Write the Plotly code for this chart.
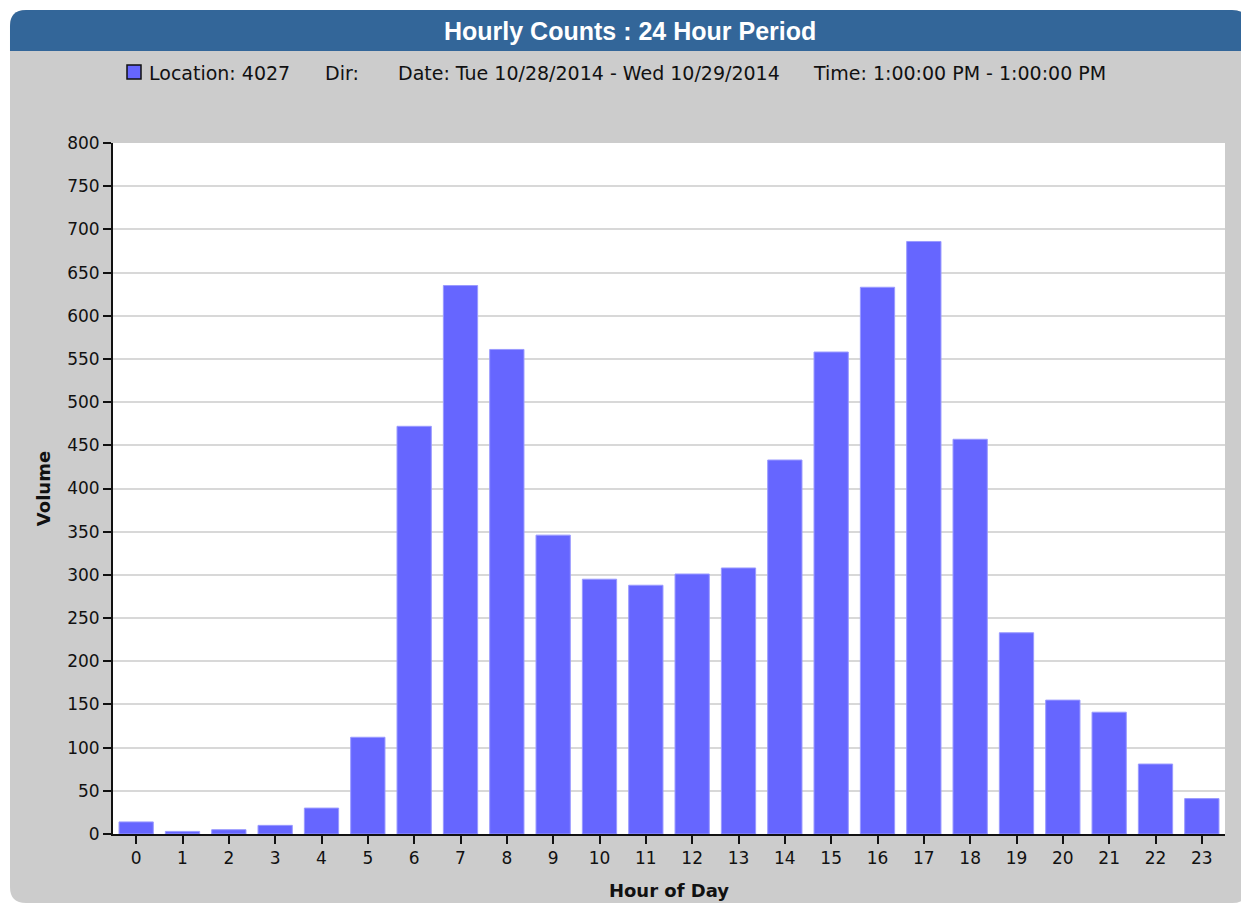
import plotly.graph_objects as go

hours = [str(h) for h in range(24)]
volume = [14, 3, 5, 10, 30, 112, 472, 635, 561, 346, 295, 288,
          301, 308, 433, 558, 633, 686, 457, 233, 155, 141, 81, 41]
y_ticks = list(range(0, 801, 50))

title_text = "Hourly Counts : 24 Hour Period"
series_name = "Location: 4027"
dir_text = "Dir:"
date_text = "Date: Tue 10/28/2014 - Wed 10/29/2014"
time_text = "Time: 1:00:00 PM - 1:00:00 PM"

# the page body has an 8px margin; work in screen pixels and shift
OFF = 8
W, H = 1249 - OFF, 905 - OFF
L, R, T, B = 113, 1225, 143, 834   # plot area in screen pixels


def px(x):
    return (x - L) / (R - L)


def py(y):
    return (B - y) / (B - T)


def pt(x, y):
    return f"{px(x):.5f},{py(y):.5f}"


fig = go.Figure()
fig.add_trace(go.Bar(
    x=hours, y=volume, name=series_name,
    marker=dict(color="#6666ff", line=dict(color="#9a9aff", width=1)),
    showlegend=False,
))

# panel
x0, y0, x1, y1, r = 10, 10, 1248, 903, 16
panel = (f"M {pt(x0 + r, y0)} L {pt(x1 - r, y0)} Q {pt(x1, y0)} {pt(x1, y0 + r)} "
         f"L {pt(x1, y1 - r)} Q {pt(x1, y1)} {pt(x1 - r, y1)} "
         f"L {pt(x0 + r, y1)} Q {pt(x0, y1)} {pt(x0, y1 - r)} "
         f"L {pt(x0, y0 + r)} Q {pt(x0, y0)} {pt(x0 + r, y0)} Z")
bar_top = 51
header = (f"M {pt(x0 + r, y0)} L {pt(x1 - r, y0)} Q {pt(x1, y0)} {pt(x1, y0 + r)} "
          f"L {pt(x1, bar_top)} L {pt(x0, bar_top)} "
          f"L {pt(x0, y0 + r)} Q {pt(x0, y0)} {pt(x0 + r, y0)} Z")
shapes = [
    dict(type="path", path=panel, xref="paper", yref="paper",
         fillcolor="#cccccc", line=dict(width=0), layer="below"),
    dict(type="path", path=header, xref="paper", yref="paper",
         fillcolor="#336699", line=dict(width=0), layer="below"),
    dict(type="rect", xref="paper", yref="paper", x0=0, x1=1, y0=0, y1=1,
         fillcolor="white", line=dict(width=0), layer="below"),
    dict(type="rect", xref="paper", yref="paper",
         x0=px(127), x1=px(141), y0=py(65), y1=py(79),
         fillcolor="#6666ff", line=dict(color="#111111", width=1.5)),
]

legend_font = dict(family="DejaVu Sans", size=19, color="#111111")
annotations = [
    dict(text=f"<b>{title_text}</b>", x=px(630), y=py(31), xref="paper", yref="paper",
         showarrow=False, xanchor="center", yanchor="middle",
         font=dict(family="Liberation Sans", size=25, color="white")),
    dict(text=series_name, x=px(147), y=py(73), xref="paper", yref="paper",
         showarrow=False, xanchor="left", yanchor="middle", font=legend_font),
    dict(text=dir_text, x=px(323), y=py(73), xref="paper", yref="paper",
         showarrow=False, xanchor="left", yanchor="middle", font=legend_font),
    dict(text=date_text, x=px(396), y=py(73), xref="paper", yref="paper",
         showarrow=False, xanchor="left", yanchor="middle", font=legend_font),
    dict(text=time_text, x=px(811), y=py(73), xref="paper", yref="paper",
         showarrow=False, xanchor="left", yanchor="middle", font=legend_font),
]

tick_font = dict(family="DejaVu Sans", size=17, color="#111111")
fig.update_layout(
    width=W, height=H,
    margin=dict(l=L - OFF, r=W - (R - OFF), t=T - OFF, b=H - (B - OFF), pad=0,
                autoexpand=False),
    paper_bgcolor="white", plot_bgcolor="rgba(0,0,0,0)",
    bargap=0.26,
    shapes=shapes, annotations=annotations,
    xaxis=dict(
        type="category", categoryorder="array", categoryarray=hours,
        range=[-0.5, 23.5], showgrid=False, zeroline=False, automargin=False,
        showline=True, linecolor="#111111", linewidth=2,
        ticks="outside", ticklen=8, tickwidth=2, tickcolor="#111111",
        tickfont=tick_font,
        title=dict(text="<b>Hour of Day</b>", standoff=17,
                   font=dict(family="DejaVu Sans", size=18, color="#111111")),
    ),
    yaxis=dict(
        range=[0, 800], tickvals=y_ticks, showgrid=True, gridcolor="#d8d8d8",
        gridwidth=2, zeroline=False, automargin=False,
        showline=True, linecolor="#111111", linewidth=2,
        ticks="outside", ticklen=8, tickwidth=2, tickcolor="#111111",
        tickfont=tick_font,
        title=dict(text="<b>Volume</b>", standoff=12,
                   font=dict(family="DejaVu Sans", size=18, color="#111111")),
    ),
)

fig.write_html("out.html")
